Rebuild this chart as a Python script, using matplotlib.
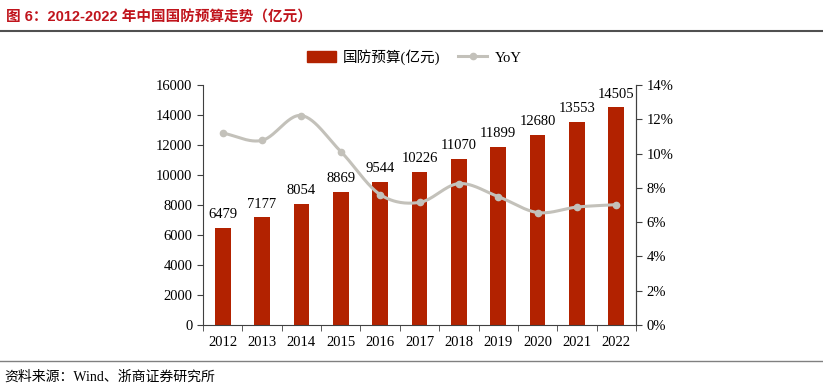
import numpy as np
import matplotlib
matplotlib.use("Agg")
import matplotlib.pyplot as plt
from matplotlib.ticker import FuncFormatter, MultipleLocator, FixedLocator
from matplotlib.lines import Line2D
from matplotlib.patches import Patch

years = ["2012", "2013", "2014", "2015", "2016", "2017", "2018", "2019", "2020", "2021", "2022"]
budget = [6479, 7177, 8054, 8869, 9544, 10226, 11070, 11899, 12680, 13553, 14505]
yoy = [11.2, 10.77, 12.22, 10.12, 7.61, 7.15, 8.25, 7.49, 6.56, 6.88, 7.02]

BAR = "#B22200"
LINE = "#C3C1BA"
TITLE_C = "#C0141C"
serif = ["Liberation Serif", "Noto Sans CJK SC"]

fig = plt.figure(figsize=(8.23, 3.91), dpi=100)
ax = fig.add_axes([203/823, 1-325/391, (636-203)/823, (325-85)/391])
x = np.arange(len(years))
ax.bar(x, budget, width=0.4, color=BAR, zorder=2)
for xi, v in zip(x, budget):
    ax.text(xi, v + 450, str(v), ha="center", va="bottom", fontsize=10.5, family=serif)
ax.set_xlim(-0.5, len(years) - 0.5)
ax.set_ylim(0, 16000)
ax.yaxis.set_major_locator(MultipleLocator(2000))
ax.set_xticks(x)
ax.set_xticklabels(years, family=serif, fontsize=10.5)
ax.tick_params(axis="x", length=0, pad=8)
ax.xaxis.set_minor_locator(FixedLocator(np.arange(-0.5, len(years), 1)))
ax.tick_params(axis="x", which="minor", length=4, direction="out", color="#404040")
ax.tick_params(axis="y", length=4, direction="out", color="#404040", labelsize=10.5)
for lab in ax.get_yticklabels():
    lab.set_family(serif)
ax.spines["top"].set_visible(False)
for s in ["left", "bottom", "right"]:
    ax.spines[s].set_color("#404040")

ax2 = ax.twinx()
ax2.set_ylim(0, 14)
ax2.yaxis.set_major_locator(MultipleLocator(2))
ax2.yaxis.set_major_formatter(FuncFormatter(lambda v, p: f"{v:.0f}%"))
ax2.tick_params(axis="y", length=4, direction="out", color="#404040", labelsize=10.5)
for lab in ax2.get_yticklabels():
    lab.set_family(serif)
ax2.spines["top"].set_visible(False)
ax2.spines["right"].set_color("#404040")
ax2.spines["left"].set_visible(False)
ax2.spines["bottom"].set_visible(False)

# smooth curve (Catmull-Rom rendering through the data points)
P = np.column_stack([x.astype(float), np.array(yoy)])
pts = np.vstack([P[0] - (P[1] - P[0]), P, P[-1] + (P[-1] - P[-2])])
curve = []
t = np.linspace(0, 1, 30)
for i in range(1, len(pts) - 2):
    p0, p1, p2, p3 = pts[i-1], pts[i], pts[i+1], pts[i+2]
    seg = 0.5 * ((2*p1)[None, :] + np.outer(t, -p0 + p2) + np.outer(t**2, 2*p0 - 5*p1 + 4*p2 - p3) + np.outer(t**3, -p0 + 3*p1 - 3*p2 + p3))
    curve.append(seg)
curve = np.vstack(curve)
ax2.plot(curve[:, 0], curve[:, 1], color=LINE, lw=2.2, zorder=3, solid_capstyle="round")
ax2.plot(x, yoy, "o", color=LINE, ms=4.5, zorder=4)
ax2.set_zorder(ax.get_zorder() + 1)
ax2.patch.set_visible(False)

handles = [Patch(color=BAR, label="国防预算(亿元)"),
           Line2D([0], [0], color=LINE, lw=2.2, marker="o", ms=4.5, label="YoY")]
fig.legend(handles=handles, loc="center", bbox_to_anchor=(414/823, 1-57/391), ncol=2,
           frameon=False, prop={"family": serif, "size": 10.5}, handlelength=2.0,
           handleheight=0.75, columnspacing=1.2, handletextpad=0.5)

fig.text(6/823, 1-17/391, "图 6：2012-2022 年中国国防预算走势（亿元）", color=TITLE_C,
         fontsize=10.5, fontweight="bold", family=["Liberation Sans", "Noto Sans CJK SC"],
         ha="left", va="center")
fig.add_artist(Line2D([0, 1], [1-31/391, 1-31/391], color="#505050", lw=1.5))
fig.add_artist(Line2D([0, 1], [1-361/391, 1-361/391], color="#808080", lw=1.0))
fig.text(4/823, 1-377/391, "资料来源：Wind、浙商证券研究所", fontsize=10,
         family=serif, ha="left", va="center")

fig.savefig("out.png", dpi=100)
